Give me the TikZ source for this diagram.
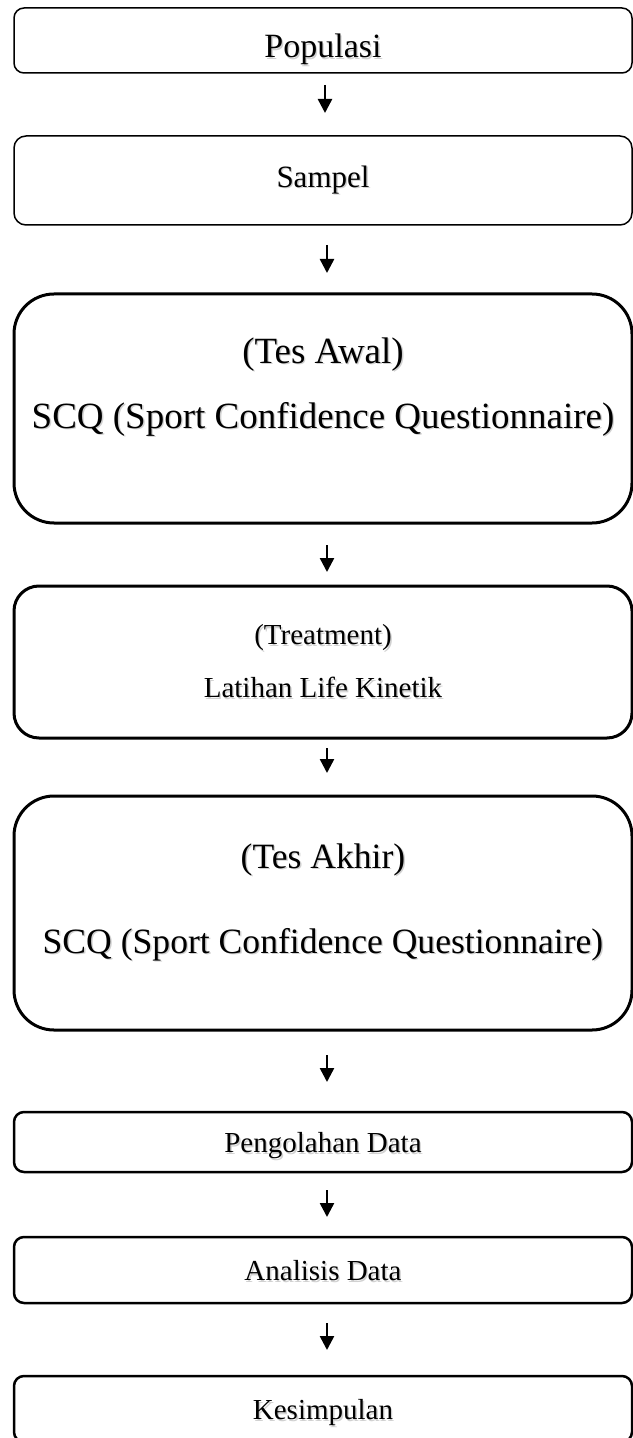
\documentclass[tikz,border=0pt]{standalone}
\usepackage{fontspec}
\setmainfont{Liberation Serif}
\usetikzlibrary{arrows.meta,positioning}
% faint drop shadow behind the printed words
\newcommand{\shtext}[1]{\makebox[0pt][l]{\hspace*{0.7pt}\raisebox{-0.7pt}{\textcolor{black!18}{#1}}}#1}

\begin{document}
\begin{tikzpicture}[node distance=31.5pt, every node/.style={align=center, outer sep=0pt}, stage/.style={rectangle, rounded corners=5pt, draw=black, line width=0.75pt, minimum width=309pt, inner sep=0pt}, bigstage/.style={stage, rounded corners=20pt, line width=1.5pt}, smallstage/.style={stage, line width=1.25pt, minimum height=33pt, text height=14pt, text depth=3.2pt, font=\fontsize{14.5}{17}\selectfont}, txt/.style={inner sep=0pt}, line/.style={-{Triangle[length=7pt,width=7pt]}, line width=1.25pt}]
\useasboundingbox (0,0) rectangle (316pt,-719pt);
\node[stage, anchor=north west, minimum height=32.5pt, text height=21.5pt, text depth=4pt, font=\fontsize{17}{20}\selectfont] (pop) at (7pt,-4pt) {\shtext{Populasi}};
\node[stage, below=of pop, rounded corners=6pt, minimum height=44.5pt, font=\fontsize{15.5}{18}\selectfont] (sampel) {\shtext{Sampel}};
\node[bigstage, below=34.5pt of sampel, minimum height=114.5pt] (awal) {};
\node[txt, font=\fontsize{18.5}{32.5}\selectfont] (awaltxt) at ([yshift=10.5pt]awal.center) {\shtext{(Tes Awal)}\\\shtext{SCQ (Sport Confidence Questionnaire)}};
\node[bigstage, below=of awal, rounded corners=12.5pt, minimum height=76pt, font=\fontsize{14.5}{26.5}\selectfont] (treat) {\shtext{(Treatment)}\\\shtext{Latihan Life Kinetik}};
\node[bigstage, below=29pt of treat, minimum height=117pt] (akhir) {};
\node[txt, font=\fontsize{17.8}{42.5}\selectfont] (akhirtxt) at ([yshift=5pt]akhir.center) {\shtext{(Tes Akhir)}\\\shtext{SCQ (Sport Confidence Questionnaire)}};
\node[smallstage, below=41pt of akhir, minimum height=30pt] (olah) {\shtext{Pengolahan Data}};
\node[smallstage, below=32.5pt of olah] (analisis) {\shtext{Analisis Data}};
\node[smallstage, below=36.5pt of analisis] (simpul) {\shtext{Kesimpulan}};

\draw[line] ([xshift=1pt,yshift=-6pt]pop.south) -- ([xshift=1pt,yshift=11.5pt]sampel.north);
\draw[line] ([xshift=2pt,yshift=-10pt]sampel.south) -- ([xshift=2pt,yshift=10.5pt]awal.north);
\draw[line] ([xshift=2pt,yshift=-11pt]awal.south) -- ([xshift=2pt,yshift=7pt]treat.north);
\draw[line] ([xshift=2pt,yshift=-5pt]treat.south) -- ([xshift=2pt,yshift=11.5pt]akhir.north);
\draw[line] ([xshift=2pt,yshift=-12.5pt]akhir.south) -- ([xshift=2pt,yshift=15pt]olah.north);
\draw[line] ([xshift=2pt,yshift=-9pt]olah.south) -- ([xshift=2pt,yshift=10pt]analisis.north);
\draw[line] ([xshift=2pt,yshift=-10pt]analisis.south) -- ([xshift=2pt,yshift=13pt]simpul.north);
\end{tikzpicture}
\end{document}
